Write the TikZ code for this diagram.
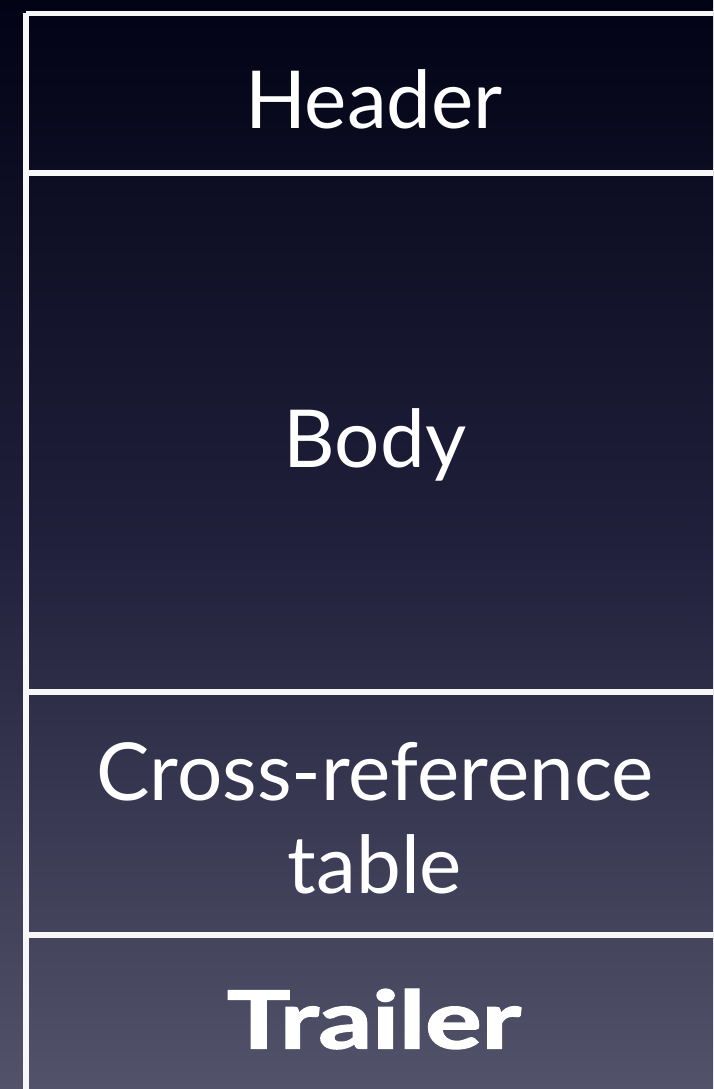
\documentclass[tikz,border=0pt]{standalone}
\usepackage{fontspec}
\setmainfont{Lato}
\begin{document}
\begin{tikzpicture}[x=1pt,y=-1pt,
  sep/.style={draw=white!94!gray, line width=5.4pt},
  label/.style={text=white, font=\fontsize{80}{93}\selectfont, align=center},
  boldlabel/.style={text=white, font=\fontsize{80}{90}\selectfont\bfseries\addfontfeatures{FakeBold=1.8}}]
\shade[top color={rgb,255:red,3;green,3;blue,22}, bottom color={rgb,255:red,82;green,82;blue,106}, middle color={rgb,255:red,32;green,32;blue,60}] (0,0) rectangle (713,1089);
\useasboundingbox (0,0) rectangle (713,1089);
\coordinate (tl) at (25.8,13.3);
\coordinate (tr) at (713,13.3);
\coordinate (bl) at (25.8,1089);
\coordinate (s1l) at (25.8,173);
\coordinate (s1r) at (713,173);
\coordinate (s2l) at (25.8,692);
\coordinate (s2r) at (713,692);
\coordinate (s3l) at (25.8,935);
\coordinate (s3r) at (713,935);
\draw[sep] (tl) -- (tr);
\draw[sep] (tl) -- (bl);
\draw[sep] (s1l) -- (s1r);
\draw[sep] (s2l) -- (s2r);
\draw[sep] (s3l) -- (s3r);
\node[label] (header) at (374,99) {Header};
\node[label] (body) at (375,445) {Body};
\node[label] (xref) at (375,818) {Cross-reference\\table};
\node[boldlabel] (trailer) at (374,1019) {\scalebox{1.32}[1]{Trailer}};
\end{tikzpicture}
\end{document}
